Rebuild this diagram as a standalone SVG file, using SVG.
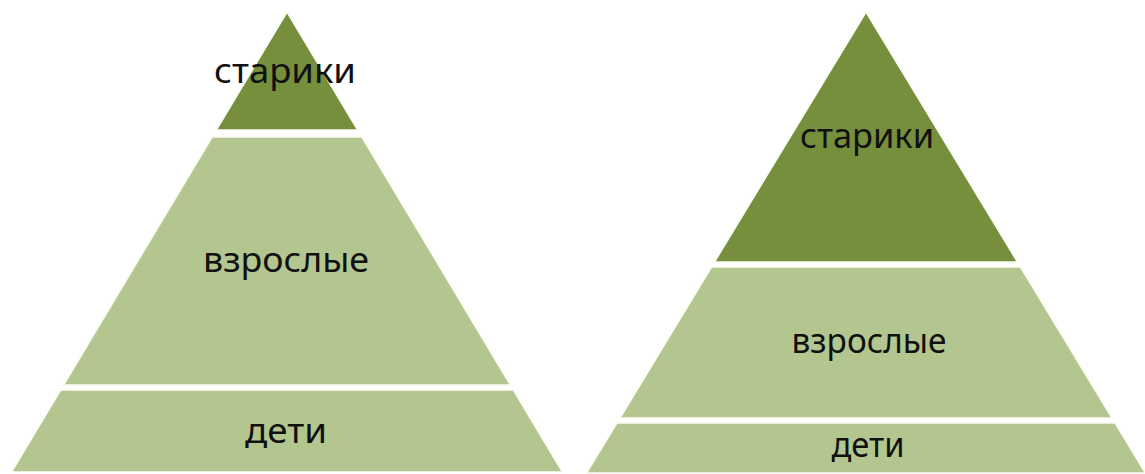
<svg xmlns="http://www.w3.org/2000/svg" width="1145" height="474" viewBox="0 0 1145 474">
<style>
.bg{fill:#ffffff}
.dark{fill:#758F3D;stroke:#fbfbf3;stroke-width:1.5}
.light{fill:#B3C68F;stroke:#fbfbf3;stroke-width:1.5}
.lbl{font-family:"Noto Sans","Open Sans",sans-serif;font-size:35px;fill:#111111;text-anchor:middle}
</style>
<rect class="bg" x="0" y="0" width="1145" height="474"/>
<g id="left-pyramid">
<g id="left-old">
<polygon class="dark" points="287,12 357.7,130 216.3,130"/>
<text class="lbl" x="285" y="83" textLength="142" lengthAdjust="spacingAndGlyphs">старики</text>
</g>
<g id="left-adults">
<polygon class="light" points="212.1,137 361.9,137 510.4,385 63.6,385"/>
<text class="lbl" x="286" y="272" textLength="166" lengthAdjust="spacingAndGlyphs">взрослые</text>
</g>
<g id="left-children">
<polygon class="light" points="60.6,390 513.4,390 562.5,472 11.5,472"/>
<text class="lbl" x="286" y="443" textLength="82" lengthAdjust="spacingAndGlyphs">дети</text>
</g>
</g>
<g id="right-pyramid">
<g id="right-old">
<polygon class="dark" points="866,12 1017.5,262 714.5,262"/>
<text class="lbl" x="867" y="148" textLength="134" lengthAdjust="spacingAndGlyphs">старики</text>
</g>
<g id="right-adults">
<polygon class="light" points="711.5,267 1020.5,267 1112,418 620,418"/>
<text class="lbl" x="869" y="353" textLength="155" lengthAdjust="spacingAndGlyphs">взрослые</text>
</g>
<g id="right-children">
<polygon class="light" points="616.9,423 1115.1,423 1145.4,473 586.6,473"/>
<text class="lbl" x="868" y="457" textLength="73" lengthAdjust="spacingAndGlyphs">дети</text>
</g>
</g>
</svg>
